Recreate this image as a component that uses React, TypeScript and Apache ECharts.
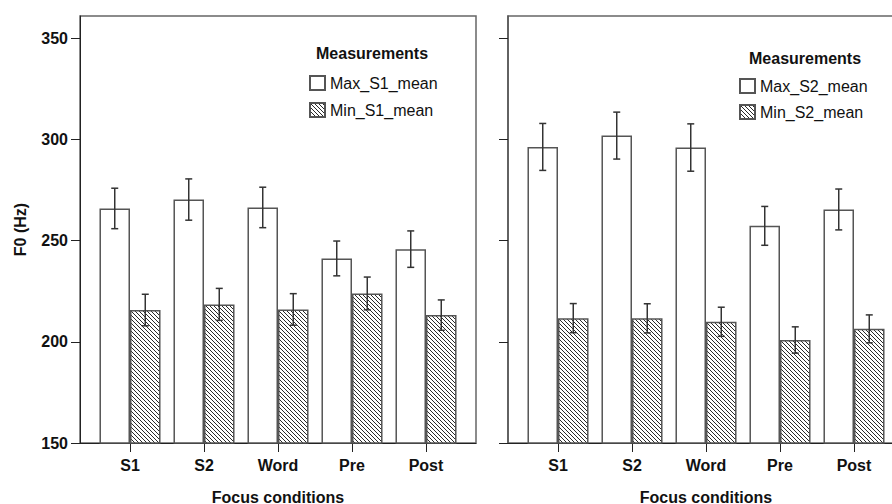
import React, { useEffect, useRef } from "react";
import * as echarts from "echarts";

const categories = ["S1", "S2", "Word", "Pre", "Post"];
const yTicks = [150, 200, 250, 300, 350];

const maxS1Mean = [265.9, 270.3, 266.4, 241.2, 245.8];
const maxS1Err = [10.0, 10.2, 10.0, 8.6, 9.0];
const minS1Mean = [215.7, 218.5, 216.0, 223.9, 213.2];
const minS1Err = [7.8, 7.9, 7.8, 8.1, 7.5];

const maxS2Mean = [296.3, 301.9, 296.0, 257.3, 265.4];
const maxS2Err = [11.6, 11.6, 11.7, 9.6, 10.1];
const minS2Mean = [211.7, 211.6, 209.9, 200.9, 206.4];
const minS2Err = [7.2, 7.2, 7.2, 6.5, 6.9];

const FONT = "'Liberation Sans', Arial, sans-serif";
const Y_MIN = 150;
const Y_MAX = 361;

function makeHatch(): string {
  const size = 4;
  const c = document.createElement("canvas");
  c.width = size;
  c.height = size;
  const ctx = c.getContext("2d")!;
  ctx.fillStyle = "#ffffff";
  ctx.fillRect(0, 0, size, size);
  ctx.fillStyle = "#2a2a2a";
  for (let i = 0; i < size; i++) ctx.fillRect(i, i, 1, 1);
  return c.toDataURL();
}

function errData(mean: number[], err: number[], side: number) {
  return mean.map((m, i) => [i, m - err[i], m + err[i], side]);
}

const renderErr = (params: any, api: any) => {
  const idx = api.value(0);
  const lo = api.value(1);
  const hi = api.value(2);
  const side = api.value(3);
  const band = api.size([1, 0])[0];
  const off = (side * band * 0.825) / 4;
  const pLo = api.coord([idx, lo]);
  const pHi = api.coord([idx, hi]);
  const x = pLo[0] + off;
  const cap = 3.5;
  const style = { stroke: "#333", lineWidth: 1.5 };
  return {
    type: "group",
    children: [
      { type: "line", shape: { x1: x, y1: pHi[1], x2: x, y2: pLo[1] }, style },
      { type: "line", shape: { x1: x - cap, y1: pHi[1], x2: x + cap, y2: pHi[1] }, style },
      { type: "line", shape: { x1: x - cap, y1: pLo[1], x2: x + cap, y2: pLo[1] }, style },
    ],
  };
};

export default function App() {
  const ref = useRef<HTMLDivElement>(null);
  useEffect(() => {
    if (!ref.current) return;
    const chart = echarts.init(ref.current, null, { renderer: "svg" });
    const hatch = { image: makeHatch(), repeat: "repeat" } as any;

    const barStyleWhite = { color: "#ffffff", borderColor: "#555", borderWidth: 1.5 };
    const barStyleHatch = { color: hatch, borderColor: "#555", borderWidth: 1.5 };

    const frameX = (gridIndex: number) => ({
      type: "value",
      gridIndex,
      min: 0,
      max: 1,
      axisLine: { show: true, lineStyle: { color: "#222", width: 1 } },
      axisTick: { show: false },
      axisLabel: { show: false },
      splitLine: { show: false },
    });
    const innerX = (gridIndex: number) => ({
      type: "category",
      gridIndex,
      data: categories,
      axisLine: { show: false },
      axisTick: { show: true, alignWithLabel: true, length: 9, lineStyle: { color: "#222" } },
      axisLabel: {
        margin: 14,
        fontFamily: FONT,
        fontSize: 16,
        fontWeight: "bold",
        color: "#111",
      },
      name: "Focus conditions",
      nameLocation: "middle",
      nameGap: 46,
      nameTextStyle: { fontFamily: FONT, fontSize: 16, fontWeight: "bold", color: "#111" },
    });
    const frameY = (gridIndex: number, labels: boolean) => ({
      type: "value",
      gridIndex,
      min: Y_MIN,
      max: Y_MAX,
      interval: 50,
      axisLine: { show: true, lineStyle: { color: labels ? "#222" : "#555", width: labels ? 1 : 1.5 } },
      axisTick: { show: true, length: 9, customValues: yTicks, lineStyle: { color: "#222" } },
      axisLabel: {
        show: labels,
        customValues: yTicks,
        margin: 12,
        fontFamily: FONT,
        fontSize: 16,
        fontWeight: "bold",
        color: "#111",
      },
      splitLine: { show: false },
      name: labels ? "F0 (Hz)" : "",
      nameLocation: "middle",
      nameGap: 52,
      nameTextStyle: { fontFamily: FONT, fontSize: 16, fontWeight: "bold", color: "#111" },
    });
    const innerY = (gridIndex: number) => ({
      type: "value",
      gridIndex,
      min: Y_MIN,
      max: Y_MAX,
      show: false,
      splitLine: { show: false },
    });

    const legendText = { fontFamily: FONT, fontSize: 16, color: "#111", lineHeight: 14 };
    const titleText = { fontFamily: FONT, fontSize: 16, fontWeight: "bold", color: "#111" };

    chart.setOption({
      animation: false,
      backgroundColor: "#ffffff",
      title: [
        { text: "Measurements", left: 316, top: 45, textStyle: titleText, padding: 0 },
        { text: "Measurements", left: 749, top: 50, textStyle: titleText, padding: 0 },
      ],
      legend: [
        {
          data: ["Max_S1_mean", "Min_S1_mean"],
          orient: "vertical",
          left: 309,
          top: 75,
          padding: 0,
          itemWidth: 15,
          itemHeight: 14,
          itemGap: 11,
          icon: "rect",
          selectedMode: false,
          textStyle: legendText,
        },
        {
          data: ["Max_S2_mean", "Min_S2_mean"],
          orient: "vertical",
          left: 739,
          top: 78,
          padding: 0,
          itemWidth: 15,
          itemHeight: 14,
          itemGap: 10,
          icon: "rect",
          selectedMode: false,
          textStyle: legendText,
        },
      ],
      grid: [
        { left: 80, top: 16, width: 396, height: 427, show: true, borderColor: "#666", borderWidth: 1.5, backgroundColor: "transparent", outerBoundsMode: "none" },
        { left: 93, top: 16, width: 370, height: 427, outerBoundsMode: "none" },
        { left: 508, top: 16, width: 420, height: 427, show: true, borderColor: "#666", borderWidth: 1.5, backgroundColor: "transparent", outerBoundsMode: "none" },
        { left: 521, top: 16, width: 370, height: 427, outerBoundsMode: "none" },
      ],
      xAxis: [frameX(0), innerX(1), frameX(2), innerX(3)],
      yAxis: [frameY(0, true), innerY(1), frameY(2, false), innerY(3)],
      series: [
        {
          name: "Max_S1_mean",
          type: "bar",
          xAxisIndex: 1,
          yAxisIndex: 1,
          data: maxS1Mean,
          barGap: "0%",
          barCategoryGap: "17.5%",
          itemStyle: barStyleWhite,
        },
        {
          name: "Min_S1_mean",
          type: "bar",
          xAxisIndex: 1,
          yAxisIndex: 1,
          data: minS1Mean,
          barGap: "0%",
          barCategoryGap: "17.5%",
          itemStyle: barStyleHatch,
        },
        {
          name: "Max_S2_mean",
          type: "bar",
          xAxisIndex: 3,
          yAxisIndex: 3,
          data: maxS2Mean,
          barGap: "0%",
          barCategoryGap: "17.5%",
          itemStyle: barStyleWhite,
        },
        {
          name: "Min_S2_mean",
          type: "bar",
          xAxisIndex: 3,
          yAxisIndex: 3,
          data: minS2Mean,
          barGap: "0%",
          barCategoryGap: "17.5%",
          itemStyle: barStyleHatch,
        },
        {
          name: "errMaxS1",
          type: "custom",
          xAxisIndex: 1,
          yAxisIndex: 1,
          renderItem: renderErr,
          encode: { x: 0, y: [1, 2] },
          data: errData(maxS1Mean, maxS1Err, -1),
          z: 10,
        },
        {
          name: "errMinS1",
          type: "custom",
          xAxisIndex: 1,
          yAxisIndex: 1,
          renderItem: renderErr,
          encode: { x: 0, y: [1, 2] },
          data: errData(minS1Mean, minS1Err, 1),
          z: 10,
        },
        {
          name: "errMaxS2",
          type: "custom",
          xAxisIndex: 3,
          yAxisIndex: 3,
          renderItem: renderErr,
          encode: { x: 0, y: [1, 2] },
          data: errData(maxS2Mean, maxS2Err, -1),
          z: 10,
        },
        {
          name: "errMinS2",
          type: "custom",
          xAxisIndex: 3,
          yAxisIndex: 3,
          renderItem: renderErr,
          encode: { x: 0, y: [1, 2] },
          data: errData(minS2Mean, minS2Err, 1),
          z: 10,
        },
      ],
    } as any);
    return () => chart.dispose();
  }, []);

  return (
    <div
      ref={ref}
      style={{ position: "fixed", left: 0, top: 0, width: 892, height: 504, background: "#fff" }}
    />
  );
}
